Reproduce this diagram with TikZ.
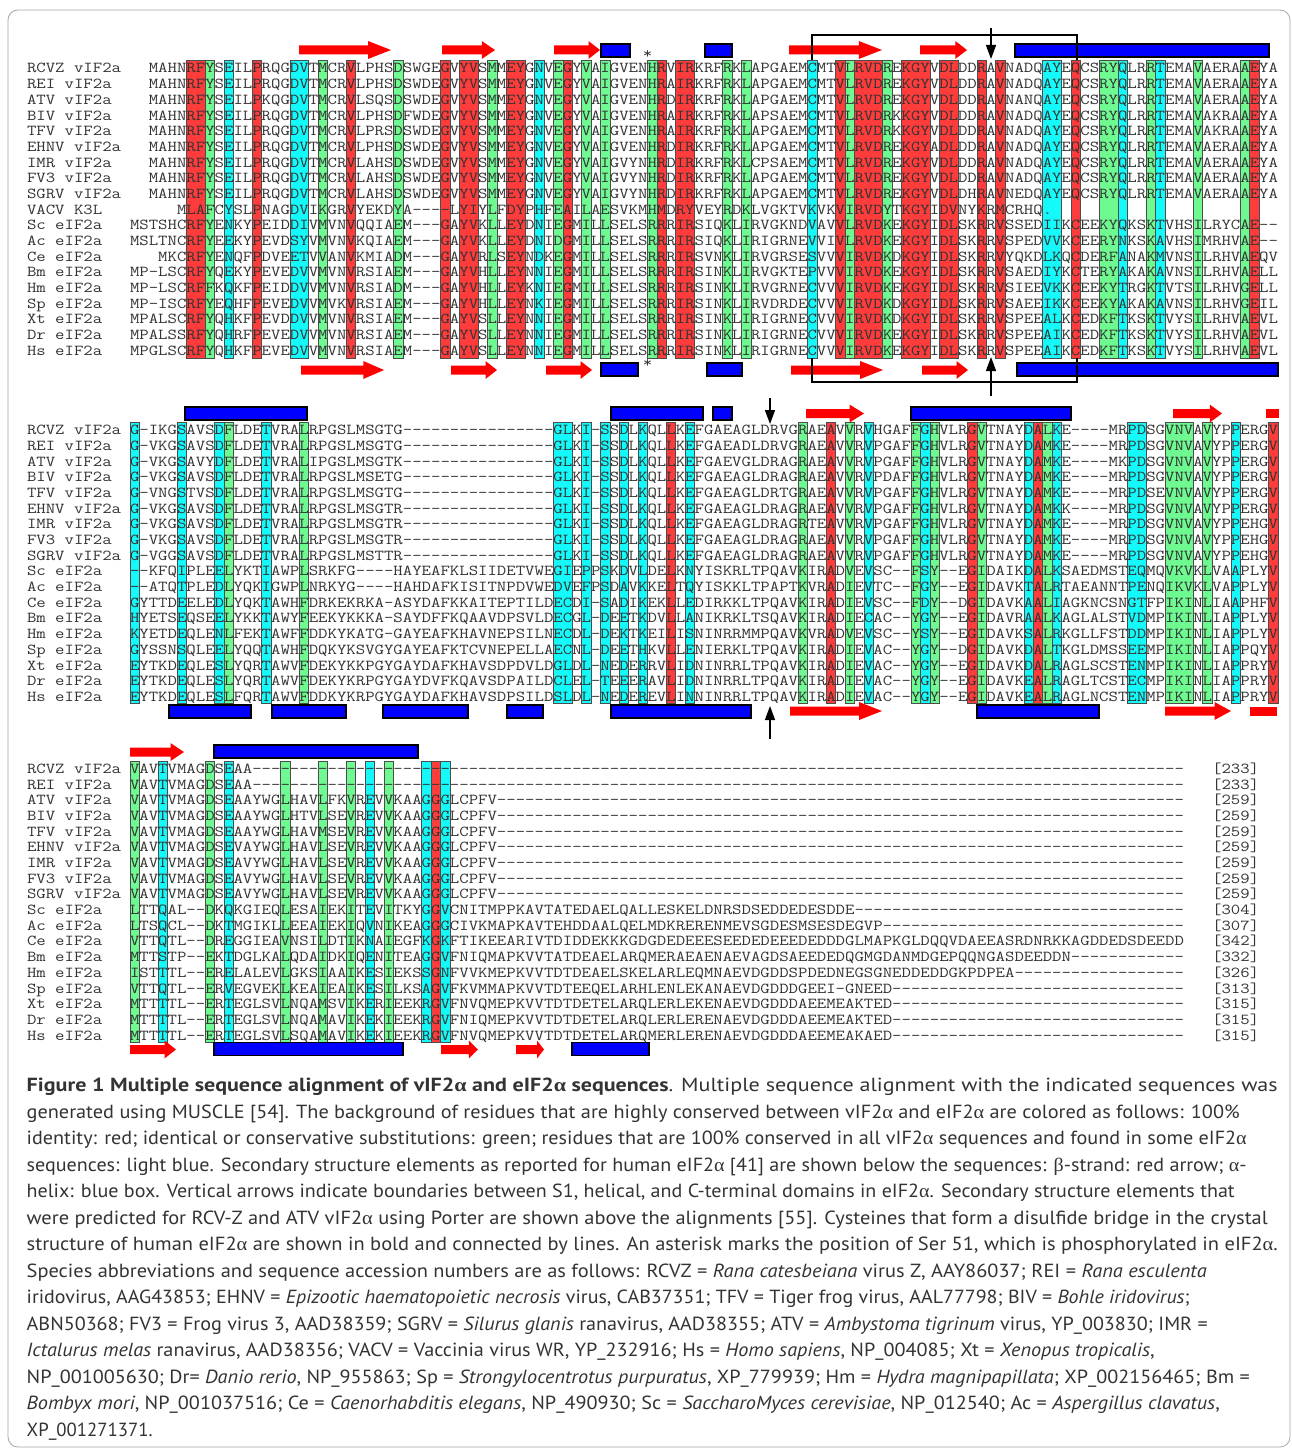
\documentclass[tikz,border=0pt]{standalone}
\usepackage{fontspec}
\usepackage{graphicx}
\newfontfamily\capfam{PT Sans}
\newfontfamily\grkfam{Liberation Serif}
\usetikzlibrary{arrows.meta}
\definecolor{boxred}{RGB}{255,60,60}
\definecolor{boxgreen}{RGB}{110,250,145}
\definecolor{boxcyan}{RGB}{20,250,250}
\definecolor{ssred}{RGB}{255,0,0}
\definecolor{ssblue}{RGB}{0,0,255}
\newdimen\cwid
\newcommand\sqf{\ttfamily\fontsize{16}{16}\selectfont}
\newcommand\capf{\capfam\fontsize{19}{22}\selectfont}
\newcommand\galpha{{\grkfam α}}
\newcommand\gbeta{{\grkfam β}}
\newcommand\sq[1]{\scalebox{\seqsx}[\seqsy]{\sqf #1}}
\ExplSyntaxOn
\newcommand\dsh[1]{\prg_replicate:nn{#1}{-}}
\ExplSyntaxOff
\newcommand\capline[4]{%
  \node[capnode] (#1) at (26.7,{1091.7+26.5*#2}) {\resizebox{#3pt}{\height}{\capf #4}};}
\newcommand\colboxes[4]{%
  \foreach \a/\b in {#2} {\draw[#1] ({130+\a*9.41},#3) rectangle ({130+(\b+1)*9.41},#4);}}
\newcommand\ssarrow[3]{%
  \pgfmathsetmacro\sshl{0.25*(#2-#1)}%
  \fill[ssred] (#1,#3-4.5) -- ({#2-\sshl},#3-4.5) -- ({#2-\sshl},#3-9) -- (#2,#3) -- ({#2-\sshl},#3+9) -- ({#2-\sshl},#3+4.5) -- (#1,#3+4.5) -- cycle;}
\newcommand\ssbody[3]{\fill[ssred] (#1,#3-4.5) rectangle (#2,#3+4.5);}
\newcommand\sshelix[3]{\draw[helix] (#1,#3-6.5) rectangle (#2,#3+6.5);}
\begin{document}
\setbox0=\hbox{\sqf M}\cwid=\wd0
\pgfmathsetmacro\seqsx{9.41/max(\the\cwid,1pt)}
\def\seqsy{0.95}
\begin{tikzpicture}[x=1pt,y=-1pt,
  seq/.style={anchor=base west, inner sep=0pt, outer sep=0pt, text=black!80},
  capnode/.style={anchor=base west, inner sep=0pt, outer sep=0pt, text=black!80},
  rbox/.style={fill=boxred, draw=black!70, line width=0.7pt},
  gbox/.style={fill=boxgreen, draw=black!70, line width=0.7pt},
  cbox/.style={fill=boxcyan, draw=black!70, line width=0.7pt},
  helix/.style={fill=ssblue, draw=black, line width=1.2pt},
  bridge/.style={line width=1.4pt, draw=black},
  varrow/.style={line width=1.4pt, draw=black, -{Triangle[length=14pt,width=10pt]}}]
\useasboundingbox (0,0) rectangle (1292,1450);
\fill[white] (0,0) rectangle (1292,1450);
\draw[black!35, line width=0.8pt, rounded corners=10pt] (8,10) rectangle (1290,1447);

% ---------------- block 1 ----------------
\colboxes{rbox}{6/7,13/13,23/23,33/33,35/36,40/41,46/46,56/56,58/59,75/75,77/79,82/84,86/87,90/90,92/92,100/100,119/119}{60}{358}
\colboxes{gbox}{8/8,20/20,28/28,38/38,45/45,48/48,50/50,55/55,63/63,65/65,76/76,80/80,103/104,108/108,113/113,118/118}{60}{358}
\colboxes{cbox}{10/10,17/18,43/43,72/72,97/98,105/105,109/109}{60}{358}

\foreach \nm [count=\i from 0] in {RCVZ vIF2a,REI vIF2a,ATV vIF2a,BIV vIF2a,TFV vIF2a,EHNV vIF2a,IMR vIF2a,FV3 vIF2a,SGRV vIF2a,VACV K3L,Sc eIF2a,Ac eIF2a,Ce eIF2a,Bm eIF2a,Hm eIF2a,Sp eIF2a,Xt eIF2a,Dr eIF2a,Hs eIF2a}
  \node[seq] (n1r\i) at (27,{72.95+15.69*\i}) {\sq{\nm}};
\foreach \c/\s [count=\i from 0] in {
2/MAHNRFYSEILPRQGDVTMCRVLPHSDSWGEGVYVSMMEYGNVEGYVAIGVENHRVIRKRFRKLAPGAEMCMTVLRVDREKGYVDLDDRAVNADQAYEQCSRYQLRRTEMAVAERAAEYA,
2/MAHNRFYSEILPRQGDVTMCRVLPHSDSWDEGVYVSMMEYGNVEGYVAIGVENHRAIRKRFRKLAPGAEMCMTVLRVDREKGYVDLDDRAVNADQAYEQCSRYQLRRTEMAVAERAAEYA,
2/MAHNRFYSEILPKQGDVTMCRVLSQSDSWDEGVYVSMMEYGNVEGYVAIGVENHRDIRKRFRKLAPGAEMCMTVLRVDREKGYVDLDDRAVNANQAYEQCSRYQLRRTEMAVAERAAEYA,
2/MAHNRFYSEILPRQGDVTMCRVLPHSDFWDEGVYVSMMEYGNVEGYVAIGVENHRAIRKRFRKLAPSAEMCMTVLRVDRKKGYVDLDDRAVNADQAYEQCSRYQLRRTEMAVAKRAAEYA,
2/MAHNRFYSEILPRQGDVTMCRVLPRSDSWDEGVYVSMMEYGNVEGYVAIGVENHRAIRKRFRKLAPGAEMCMTVLRVDRKKGYVDLDDRAVNADQAYEQCSRYQLRRTEMAVAKRAAEYA,
2/MAHNRFYSEILPRQGDVTMCRVLPHSDSWDEGVYVSMMEYGNVEGYVAIGVENHRDIRKRFRKLAPGAEMCMTVLRVDREKGYADLDDRAVNADQAYEQCSRYQLRRTEMAVAERAAEYA,
2/MAHNRFYSEILPRQGDVTMCRVLAHSDSWDEGVYVSMMEYGNVEGYVAIGVYNHRDIRKRFRKLCPSAEMCMTVLRVDREKGYVDLDDRAVNADQAYEQCSRYQLRRTEMAVAERAAEYA,
2/MAHNRFYSEILPRQGDVTMCRVLAHSDSWDEGVYVSMMEYGNVEGYVAIGVYNHRDIRKRFRKLAPGAEMCMTVLRVDREKGYVDLDDRAVNADQAYEQCSRYQLRRTEMAVAERAAEYA,
2/MAHNRFYSEILPRQGDVTMCRVLAHSDSWDEGVYVSMMEYGNVEGYVAIGVYNHRDIRKRFRKLAPGAEMCMTVLRVDREKGYVDLDHRAVNEDQAYEQCSRYQLRRTEMAVAERAAEYA,
5/MLAFCYSLPNAGDVIKGRVYEKDYA----LYIYLFDYPHFEAILAESVKMHMDRYVEYRDKLVGKTVKVKVIRVDYTKGYIDVNYKRMCRHQ.,
0/MSTSHCRFYENKYPEIDDIVMVNVQQIAEM---GAYVKLLEYDNIEGMILLSELSRRRIRSIQKLIRVGKNDVAVVLRVDKEKGYIDLSKRRVSSEDIIKCEEKYQKSKTVHSILRYCAE--,
0/MSLTNCRFYEEKYPEVDSYVMVNVKQIAEM---GAYVKLLEYDNIDGMILLSELSRRRIRSIQKLIRIGRNEVVIVLRVDKEKGYIDLSKRRVSPEDVVKCEERYNKSKAVHSIMRHVAE--,
3/MKCRFYENQFPDVEETVVANVKMIADM---GAYVRLSEYNDKEGMILLSELSRRRIRSVNKLIRVGRSESVVVIRVDKDKGYIDLSKRRVYQKDLKQCDERFANAKMVNSILRHVAEQV,
0/MP-LSCRFYQEKYPEVEDVVMVNVRSIAEM---GAYVHLLEYNNIEGMILLSELSRRRIRSINKLIRVGKTEPVVVIRVDKEKGYIDLSKRRVSAEDIYKCTERYAKAKAVNSILRHVAELL,
0/MP-LSCRFFKQKFPEIDDVVMVNVRSIADM---GAYVHLLEYKNIEGMILLSELSRRRIRSINKLIRVGRNECVVVIRVDKEKGYIDLSKRRVSIEEVKKCEEKYTRGKTVTSILRHVGELL,
0/MP-ISCRFYEQHFPEVEDVVMVKVRSIAEM---GAYVHLLEYNKIEGMILLSELSRRRIRSINKLIRVDRDECVVVIRVDKDKGYIDLSKRRVSAEEIKKCEEKYAKAKAVNSILRHVGEIL,
0/MPALSCRFYQHKFPEVDDVVMVNVRSIAEM---GAYVSLLEYNNIEGMILLSELSRRRIRSINKLIRIGRNECVVVIRVDKDKGYIDLSKRRVSPEEALKCEDKFTKSKTVYSILRHVAEVL,
0/MPALSSRFYQHRFPEVEDVVMVNVRSIAEM---GAYVSLLEYNNIEGMILLSELSRRRIRSINKLIRIGRNECVVVIRVDKEKGYIDLSKRRVSPEEAIKCEDKFTKSKTVYSILRHVAEVL,
0/MPGLSCRFYQHKFPEVEDVVMVNVRSIAEM---GAYVSLLEYNNIEGMILLSELSRRRIRSINKLIRIGRNECVVVIRVDKEKGYIDLSKRRVSPEEAIKCEDKFTKSKTVYSILRHVAEVL}
  \node[seq] (s1r\i) at ({130+\c*9.41},{72.95+15.69*\i}) {\sq{\s}};

% secondary structure block 1
\ssarrow{299}{391}{50}\ssarrow{442}{495}{50}\ssarrow{554}{600}{50}
\sshelix{601}{630}{50.5}\sshelix{705}{732}{50.5}
\ssarrow{789}{882}{50}\ssarrow{920}{967}{50}\sshelix{1015}{1269}{50.5}
\ssarrow{301}{384}{370}\ssarrow{451}{497}{370}\ssarrow{546}{592}{370}
\sshelix{601}{638}{369.5}\sshelix{707}{742}{369.5}
\ssarrow{791}{883}{370}\ssarrow{922}{968}{370}\sshelix{1017}{1278}{369.5}
\node[seq] (ast1) at (642.8,59) {\sq{*}};
\node[seq] (ast2) at (642.8,367.8) {\sq{*}};
% disulfide bridge lines
\coordinate (ct1) at (812,60); \coordinate (ct2) at (812,35);
\coordinate (ct3) at (1077,35); \coordinate (ct4) at (1077,60);
\coordinate (cb1) at (812,358); \coordinate (cb2) at (812,382);
\coordinate (cb3) at (1077,382); \coordinate (cb4) at (1077,358);
\draw[bridge] (ct1) -- (ct2) -- (ct3) -- (ct4);
\draw[bridge] (cb1) -- (cb2) -- (cb3) -- (cb4);
% domain boundary arrows
\coordinate (va1) at (991,28); \coordinate (va2) at (991,59);
\coordinate (vb1) at (991,396); \coordinate (vb2) at (991,357);
\draw[varrow] (va1) -- (va2);
\draw[varrow] (vb1) -- (vb2);

% ---------------- block 2 ----------------
\colboxes{rbox}{57/57,74/74,89/89,96/96,121/121}{422}{703}
\colboxes{gbox}{10/10,18/18,71/71,76/76,83/83,85/85,90/90,97/97,110/112,114/114}{422}{703}
\colboxes{cbox}{0/0,5/5,9/9,14/14,45/46,48/48,50/50,52/52,54/54,59/59,78/78,84/84,95/95,98/98,106/107,117/117}{422}{703}

\foreach \nm [count=\i from 0] in {RCVZ vIF2a,REI vIF2a,ATV vIF2a,BIV vIF2a,TFV vIF2a,EHNV vIF2a,IMR vIF2a,FV3 vIF2a,SGRV vIF2a,Sc eIF2a,Ac eIF2a,Ce eIF2a,Bm eIF2a,Hm eIF2a,Sp eIF2a,Xt eIF2a,Dr eIF2a,Hs eIF2a}
  \node[seq] (n2r\i) at (27,{434.65+15.69*\i}) {\sq{\nm}};
\foreach \s [count=\i from 0] in {
G-IKGSAVSDFLDETVRALRPGSLMSGTG----------------GLKI-SSDLKQLLKEFGAEAGLDRVGRAEAVVRVHGAFFGHVLRGVTNAYDALKE----MRPDSGVNVAVYPPERGV,
G-VKGSAVSDFLDETVRALRPGSLMSGTG----------------GLKI-SSDLKQLLKEFGAEADLDRVGRAEAVVRVPGAFFGHVLRGVTNAYDAMKE----MRPDSGVNVAVYPPERGV,
G-VKGSAVYDFLDETVRALIPGSLMSGTK----------------GLKI-SSDLKQLLKEFGAEVGLDRAGRAEAVVRVPGAFFGHVLRGVTNAYDAMKE----MKPDSGVNVAVYPPERGV,
G-VKGSAVSDFLDETVRALRPGSLMSETG----------------GLKI-SSDLKQLLKEFGAEAGLDRAGRAEAVVRVPDAFFGHVLRGVTNAYDAMKE----MRPDSGVNVAVYPPERGV,
G-VNGSTVSDFLDETVRALRPGSLMSGTG----------------GLKI-SSDLKQLLKEFGAEAGLDRTGRAEAVVRVPGAFFGHVLRGVTNAYDAMKE----MRPDSEVNVAVYPPERGV,
G-VKGSAVSDFLDETVRALRPGSLMSGTR----------------GLKI-SSDLKQLLKEFGAEAGLDRAGRAEAVVRVPGAFFGHVLRGVTNAYDAMKK----MRPDSGVNVAVYPPERGV,
G-VKGSAVSDFLDETVRALRPGSLMSGTR----------------GLKI-SSDLKQLLKEFGAEAGLDRAGRTEAVVRVPGAFFGHVLRGVTNAYDAMKE----MRPDSGVNVAVYPPEHGV,
G-VKGSAVSDFLDETVRALRPGSLMSGTR----------------GLKI-SSDLKQLLKEFGAEAGLDRAGRAEAVVRVPGAFFGHVLRGVTNAYDAMKE----MRPDSGVNVAVYPPEHGV,
G-VGGSAVSDFLDETVRALRPGSLMSTTR----------------GLKI-SSDLKQLLKEFGAEAGLDRAGRAEAVVRVPGAFFGHVLRGVTNAYDAMKE----MRPDSGVNVAVYPPEHGV,
--KFQIPLEELYKTIAWPLSRKFG----HAYEAFKLSIIDETVWEGIEPPSKDVLDELKNYISKRLTPQAVKIRADVEVSC--FSY--EGIDAIKDALKSAEDMSTEQMQVKVKLVAAPLYV,
--ATQTPLEDLYQKIGWPLNRKYG----HAHDAFKISITNPDVWEDVEFPSDAVKKELTQYISKKLTPAPTKVRADIEVTC--FGY--EGIDAVKTALRTAEANNTPENQIKVKLVAPPLYV,
GYTTDEELEDLYQKTAWHFDRKEKRKA-ASYDAFKKAITEPTILDECDI-SADIKEKLLEDIRKKLTPQAVKIRADIEVSC--FDY--DGIDAVKAALIAGKNCSNGTFPIKINLIAAPHFV,
HYETSEQSEELYKKTAWYFEEKYKKKA-SAYDFFKQAAVDPSVLDECGL-DEETKDVLLANIKRKLTSQAVKIRADIECAC--YGY--EGIDAVRAALKAGLALSTVDMPIKINLIAPPLYV,
KYETDEQLENLFEKTAWFFDDKYKATG-GAYEAFKHAVNEPSILNECDL-DEKTKEILISNINRRMMPQAVKVRADVEVSC--YSY--EGIDAVKSALRKGLLFSTDDMPIKINLIAPPLYV,
GYSSNSQLEELYQQTAWHFDQKYKSVGYGAYEAFKTCVNEPELLAECNL-DEETHKVLLENIERKLTPQAVKIRADIEVAC--YGY--DGIDAVKDALTKGLDMSSEEMPIKINLIAPPQYV,
EYTKDEQLESLYQRTAWVFDEKYKKPGYGAYDAFKHAVSDPDVLDGLDL-NEDERRVLIDNINRRLTPQAVKIRADIEVAC--YGY--EGIDAVKDALRAGLSCSTENMPIKINLIAPPRYV,
EYTKDEQLESLYQRTAWVFDEKYKRPGYGAYDVFKQAVSDPAILDCLEL-TEEERAVLIDNINRRLTPQAVKIRADIEVAC--YGY--EGIDAVKEALRAGLTCSTECMPIKINLIAPPRYV,
EYTKDEQLESLFQRTAWVFDDKYKRPGYGAYDAFKHAVSDPSILDSLDL-NEDEREVLINNINRRLTPQAVKIRADIEVAC--YGY--EGIDAVKEALRAGLNCSTENMPIKINLIAPPRYV}
  \node[seq] (s2r\i) at (130,{434.65+15.69*\i}) {\sq{\s}};

\sshelix{185}{307}{413.5}\sshelix{611}{703}{413.5}\sshelix{713}{732}{413.5}
\ssarrow{806}{864}{413.5}\sshelix{911}{1071}{413.5}\ssarrow{1173}{1222}{413.5}\ssbody{1266}{1279}{413.5}
\sshelix{169}{251}{711.5}\sshelix{272}{346}{711.5}\sshelix{383}{468}{711.5}\sshelix{507}{543}{711.5}
\sshelix{611}{751}{711.5}\ssarrow{790}{882}{711}\sshelix{977}{1099}{711.5}\ssarrow{1165}{1231}{711}\ssbody{1250}{1277}{711}
\coordinate (vc1) at (770,398); \coordinate (vc2) at (770,424);
\coordinate (vd1) at (770,739); \coordinate (vd2) at (770,706);
\draw[varrow] (vc1) -- (vc2);
\draw[varrow] (vd1) -- (vd2);

% ---------------- block 3 ----------------
\colboxes{rbox}{32/32}{761}{1042}
\colboxes{gbox}{0/0,8/8,16/16,20/20,23/23,27/27}{761}{1042}
\colboxes{cbox}{3/3,10/10,25/25,31/31,33/33}{761}{1042}

\foreach \nm [count=\i from 0] in {RCVZ vIF2a,REI vIF2a,ATV vIF2a,BIV vIF2a,TFV vIF2a,EHNV vIF2a,IMR vIF2a,FV3 vIF2a,SGRV vIF2a,Sc eIF2a,Ac eIF2a,Ce eIF2a,Bm eIF2a,Hm eIF2a,Sp eIF2a,Xt eIF2a,Dr eIF2a,Hs eIF2a}
  \node[seq] (n3r\i) at (27,{773.35+15.69*\i}) {\sq{\nm}};
\foreach \s [count=\i from 0] in {
VAVTVMAGDSEAA\dsh{99},
VAVTVMAGDSEAA\dsh{99},
VAVTVMAGDSEAAYWGLHAVLFKVREVVKAAGGGLCPFV\dsh{73},
VAVTVMAGDSEAAYWGLHTVLSEVREVVKAAGGGLCPFV\dsh{73},
VAVTVMAGDSEAAYWGLHAVMSEVREVVKAAGGGLCPFV\dsh{73},
VAVTVMAGDSEVAYWGLHAVLSEVREVVKAAGGGLCPFV\dsh{73},
VAVTVMAGDSEAVYWGLHAVLSEVREVVKAAGGGLCPFV\dsh{73},
VAVTVMAGDSEAVYWGLHAVLSEVREVVKAAGGGLCPFV\dsh{73},
VAVTVMAGDSEAVYWGLHAVLSEVREVVKAAGGGLCPFV\dsh{73},
LTTQAL--DKQKGIEQLESAIEKITEVITKYGGVCNITMPPKAVTATEDAELQALLESKELDNRSDSEDDEDESDDE\dsh{35},
LTSQCL--DKTMGIKLLEEAIEKIQVNIKEAGGGCIVKMAPKAVTEHDDAALQELMDKRERENMEVSGDESMSESDEGVP\dsh{32},
VTTQTL--DREGGIEAVNSILDTIKNAIEGFKGKFTIKEEARIVTDIDDEKKKGDGDEDEEESEEDEDEEEDEDDDGLMAPKGLDQQVDAEEASRDNRKKAGDDEDSDEEDD,
MTTSTP--EKTDGLKALQDAIDKIQENITEAGGVFNIQMAPKVVTATDEAELARQMERAEAENAEVAGDSAEEDEDQGMGDANMDGEPQQNGASDEEDDN\dsh{12},
ISTTTL--ERELALEVLGKSIAAIKESIEKSSGNFVVKMEPKVVTDTDEAELSKELARLEQMNAEVDGDDSPDEDNEGSGNEDDEDDGKPDPEA\dsh{18},
VTTQTL--ERVEGVEKLKEAIEAIKESILKSAGVFKVMMAPKVVTDTEEQELARHLENLEKANAEVDGDDDGEEI-GNEED\dsh{31},
MTTTTL--ERTEGLSVLNQAMSVIKERIEEKRGVFNVQMEPKVVTDTDETELARQLERLEKENAEVDGDDDAEEMEAKTED\dsh{31},
MTTTTL--ERTEGLSVLNQAMAVIKEKIEEKRGVFNIQMEPKVVTDTDETELARQLERLERENAEVDGDDDAEEMEAKTED\dsh{31},
MTTTTL--ERTEGLSVLSQAMAVIKEKIEEKRGVFNVQMEPKVVTDTDETELARQMERLERENAEVDGDDDAEEMEAKAED\dsh{31}}
  \node[seq] (s3r\i) at (130,{773.35+15.69*\i}) {\sq{\s}};
\foreach \nn [count=\i from 0] in {233,233,259,259,259,259,259,259,259,304,307,342,332,326,313,315,315,315}
  \node[seq] (num\i) at (1212.15,{773.35+15.69*\i}) {\sq{[\nn]}};

\ssarrow{130}{184}{752}\sshelix{214}{418}{751.5}
\ssarrow{130}{176}{1049.5}\sshelix{214}{403}{1049}\ssarrow{441}{478}{1049.5}\ssarrow{516}{544}{1049.5}\sshelix{572}{649}{1049}

% ---------------- caption ----------------
\capline{c1}{0}{1251}{\textbf{Figure 1 Multiple sequence alignment of vIF2\galpha{} and eIF2\galpha{} sequences}. Multiple sequence alignment with the indicated sequences was}
\capline{c2}{1}{1213}{generated using MUSCLE [54]. The background of residues that are highly conserved between vIF2\galpha{} and eIF2\galpha{} are colored as follows: 100\%}
\capline{c3}{2}{1220}{identity: red; identical or conservative substitutions: green; residues that are 100\% conserved in all vIF2\galpha{} sequences and found in some eIF2\galpha}
\capline{c4}{3}{1220}{sequences: light blue. Secondary structure elements as reported for human eIF2\galpha{} [41] are shown below the sequences: \gbeta-strand: red arrow; \galpha-}
\capline{c5}{4}{1208}{helix: blue box. Vertical arrows indicate boundaries between S1, helical, and C-terminal domains in eIF2\galpha. Secondary structure elements that}
\capline{c6}{5}{1241}{were predicted for RCV-Z and ATV vIF2\galpha{} using Porter are shown above the alignments [55]. Cysteines that form a disulfide bridge in the crystal}
\capline{c7}{6}{1251}{structure of human eIF2\galpha{} are shown in bold and connected by lines. An asterisk marks the position of Ser 51, which is phosphorylated in eIF2\galpha.}
\capline{c8}{7}{1180}{Species abbreviations and sequence accession numbers are as follows: RCVZ = \textit{Rana catesbeiana} virus Z, AAY86037; REI = \textit{Rana esculenta}}
\capline{c9}{8}{1163}{iridovirus, AAG43853; EHNV = \textit{Epizootic haematopoietic necrosis} virus, CAB37351; TFV = Tiger frog virus, AAL77798; BIV = \textit{Bohle iridovirus};}
\capline{c10}{9}{1181}{ABN50368; FV3 = Frog virus 3, AAD38359; SGRV = \textit{Silurus glanis} ranavirus, AAD38355; ATV = \textit{Ambystoma tigrinum} virus, YP\_003830; IMR =}
\capline{c11}{10}{1128}{\textit{Ictalurus melas} ranavirus, AAD38356; VACV = Vaccinia virus WR, YP\_232916; Hs = \textit{Homo sapiens}, NP\_004085; Xt = \textit{Xenopus tropicalis},}
\capline{c12}{11}{1223}{NP\_001005630; Dr= \textit{Danio rerio}, NP\_955863; Sp = \textit{Strongylocentrotus purpuratus}, XP\_779939; Hm = \textit{Hydra magnipapillata}; XP\_002156465; Bm =}
\capline{c13}{12}{1193}{\textit{Bombyx mori}, NP\_001037516; Ce = \textit{Caenorhabditis elegans}, NP\_490930; Sc = \textit{SaccharoMyces cerevisiae}, NP\_012540; Ac = \textit{Aspergillus clavatus},}
\capline{c14}{13}{126}{XP\_001271371.}
\end{tikzpicture}
\end{document}
